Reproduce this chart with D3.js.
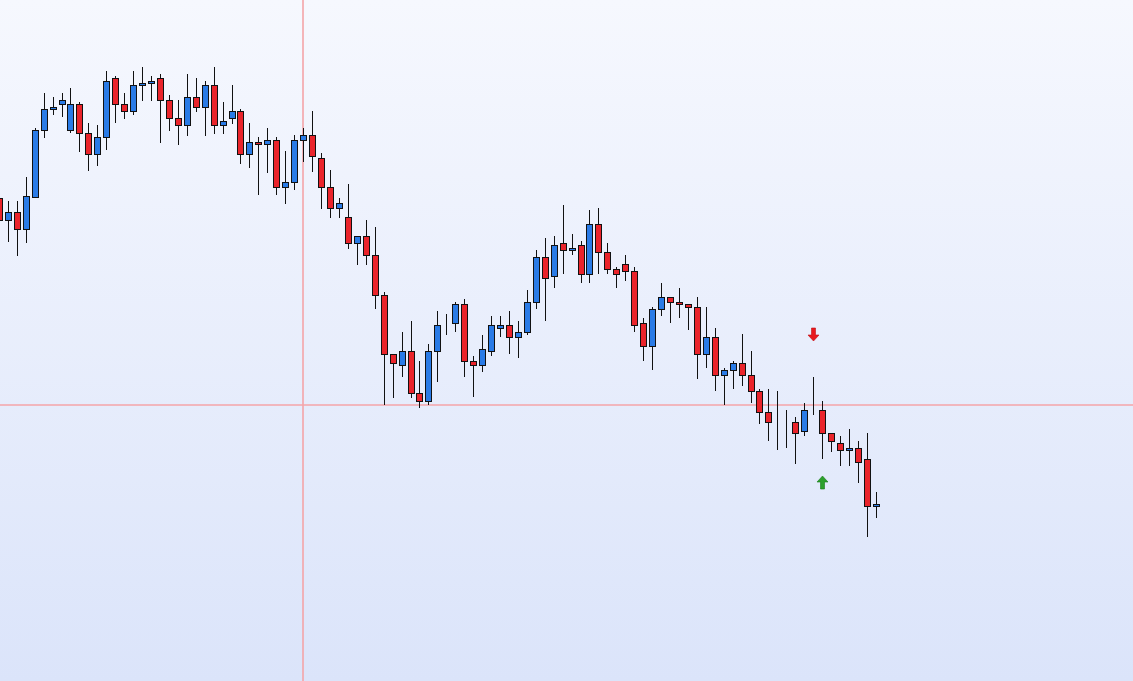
<!DOCTYPE html>
<html>
<head>
<meta charset="utf-8">
<script src="https://cdn.jsdelivr.net/npm/d3@7/dist/d3.min.js"></script>
<style>
html,body{margin:0;padding:0;overflow:hidden;background:#eef2fd;}
svg{display:block;}
</style>
</head>
<body>
<svg id="chart" width="1133" height="681"></svg>
<script>
// ---- data ----
const opens  = [118.02,117.80,117.88,117.71,118.03,118.70,118.91,118.96,118.70,118.96,
                118.67,118.46,118.63,119.22,118.96,118.89,119.15,119.17,119.22,119.00,
                118.82,118.75,119.03,118.93,119.15,118.75,118.82,118.89,118.46,118.58,
                118.56,118.60,118.13,118.18,118.60,118.65,118.42,118.13,117.92,117.83,
                117.57,117.64,117.45,117.05,116.46,116.35,116.49,116.07,115.99,116.49,
                116.77,116.77,116.96,116.39,116.35,116.49,116.72,116.75,116.63,116.68,
                116.98,117.43,117.24,117.57,117.50,117.55,117.26,117.76,117.48,117.31,
                117.36,117.29,116.77,116.54,116.91,117.03,116.98,116.96,116.93,116.46,
                116.63,116.25,116.30,116.37,116.25,116.09,115.88,115.78,115.78,115.78,
                115.69,115.90,115.90,115.67,115.57,115.50,115.52,115.41,114.94];
const highs  = [118.08,117.99,117.99,118.23,118.72,119.07,119.03,119.07,119.12,118.98,
                118.77,118.75,119.29,119.24,119.07,119.29,119.33,119.24,119.26,119.05,
                119.00,119.26,119.22,119.19,119.33,118.98,119.15,118.91,118.77,118.63,
                118.72,118.63,118.49,118.65,118.72,118.89,118.47,118.30,118.02,118.16,
                117.64,117.80,117.73,117.08,116.46,116.68,116.79,116.39,116.56,116.89,
                116.86,116.98,117.01,116.44,116.65,116.84,116.84,116.89,116.79,117.10,
                117.50,117.62,117.64,117.95,117.66,117.59,117.90,117.92,117.57,117.33,
                117.45,117.33,116.82,116.93,117.17,117.03,117.12,116.96,117.03,116.93,
                116.72,116.32,116.39,116.66,116.49,116.11,116.11,116.09,115.90,115.83,
                115.97,116.23,115.99,115.67,115.64,115.71,115.59,115.67,115.08];
const lows   = [117.72,117.58,117.44,117.57,118.02,118.62,118.85,118.83,118.67,118.48,
                118.29,118.34,118.50,118.77,118.81,118.85,118.99,118.99,118.57,118.69,
                118.55,118.64,118.88,118.64,118.66,118.66,118.76,118.36,118.32,118.05,
                118.27,118.05,117.96,118.10,118.38,118.28,117.91,117.82,117.82,117.51,
                117.35,117.35,116.91,115.95,116.02,116.23,116.02,115.92,115.95,116.18,
                116.65,116.68,116.23,116.03,116.28,116.44,116.63,116.46,116.42,116.65,
                116.91,116.79,117.12,117.26,117.45,117.17,117.17,117.26,117.26,117.12,
                117.19,116.68,116.39,116.30,116.84,116.77,116.82,116.70,116.21,116.32,
                116.09,115.95,116.11,116.14,115.97,115.76,115.59,115.50,115.52,115.36,
                115.64,115.85,115.41,115.48,115.34,115.34,115.17,114.63,114.82];
const closes = [117.80,117.88,117.71,118.04,118.70,118.91,118.93,119.00,118.96,118.67,
                118.46,118.63,119.19,118.96,118.89,119.15,119.17,119.19,119.00,118.82,
                118.75,119.03,118.93,119.15,118.75,118.79,118.89,118.46,118.58,118.56,
                118.60,118.13,118.18,118.60,118.65,118.44,118.13,117.92,117.97,117.57,
                117.64,117.45,117.05,116.46,116.37,116.49,116.07,115.99,116.49,116.75,
                116.77,116.96,116.39,116.35,116.51,116.75,116.75,116.63,116.68,116.98,
                117.43,117.22,117.55,117.50,117.52,117.26,117.76,117.48,117.31,117.26,
                117.29,116.75,116.54,116.91,117.03,116.98,116.96,116.93,116.46,116.63,
                116.25,116.30,116.37,116.25,116.09,115.88,115.78,115.78,115.78,115.67,
                115.90,115.90,115.67,115.59,115.50,115.52,115.38,114.94,114.96];
const sellSignalIndex = [91];
const sellSignalPrice = [116.72];
const buySignalIndex  = [92];
const buySignalPrice  = [115.11];
const crosshairIndex = 34;
const crosshairPrice = 115.95;

// ---- layout ----
const W = 1133, H = 681;
const svg = d3.select("#chart");

const defs = svg.append("defs");
const grad = defs.append("linearGradient").attr("id","bg").attr("x1",0).attr("y1",0).attr("x2",0).attr("y2",1);
grad.append("stop").attr("offset","0%").attr("stop-color","#f6f8fe");
grad.append("stop").attr("offset","100%").attr("stop-color","#dbe4fa");
svg.append("rect").attr("width",W).attr("height",H).attr("fill","url(#bg)");

const n = opens.length;
const x = d3.scaleLinear().domain([0, n - 1]).range([-1.1, 875.8]);
const y = d3.scaleLinear().domain([120 - H/100, 120]).range([H, 0]);

const data = d3.range(n).map(i => ({i, o:opens[i], h:highs[i], l:lows[i], c:closes[i]}));

// crosshair
const cx0 = Math.round(x(crosshairIndex));
const cy0 = Math.round(y(crosshairPrice));
svg.append("line").attr("x1",cx0).attr("x2",cx0).attr("y1",0).attr("y2",H)
   .attr("stroke","#f4a4a8").attr("stroke-width",1.6);
svg.append("line").attr("x1",0).attr("x2",W).attr("y1",cy0).attr("y2",cy0)
   .attr("stroke","#f4a4a8").attr("stroke-width",1.6);

const g = svg.append("g");
const candle = g.selectAll("g.c").data(data).join("g").attr("class","c");

candle.append("line")
  .attr("x1", d => Math.round(x(d.i)) + 0.5)
  .attr("x2", d => Math.round(x(d.i)) + 0.5)
  .attr("y1", d => Math.round(y(d.h)))
  .attr("y2", d => Math.round(y(d.l)))
  .attr("stroke","#111").attr("stroke-width",1);

candle.append("rect")
  .attr("x", d => Math.round(x(d.i)) - 3 + 0.5)
  .attr("width", 6)
  .attr("y", d => Math.round(y(Math.max(d.o,d.c))) + 0.5)
  .attr("height", d => Math.max(0, Math.round(y(Math.min(d.o,d.c))) - Math.round(y(Math.max(d.o,d.c)))))
  .attr("fill", d => d.c > d.o ? "#2a7be6" : (d.c < d.o ? "#ea242b" : "#111"))
  .attr("stroke","#111").attr("stroke-width",1);

// signal arrows
function arrowPath(cx, yTip, dir){ // dir = 1 pointing down, -1 pointing up
  const hw = 5.5, sw = 2, headH = 6, shaftH = 7;
  const ys = yTip - dir*headH, ye = yTip - dir*(headH+shaftH);
  return `M${cx},${yTip} L${cx-hw},${ys} L${cx-sw},${ys} L${cx-sw},${ye} L${cx+sw},${ye} L${cx+sw},${ys} L${cx+hw},${ys} Z`;
}
sellSignalIndex.forEach((idx,k) => {
  const cx = Math.round(x(idx)) + 0.5;
  const top = y(sellSignalPrice[k]);
  svg.append("path").attr("d", arrowPath(cx, top + 13, 1))
    .attr("fill","#e8191e").attr("stroke","#c01015").attr("stroke-width",0.6);
});
buySignalIndex.forEach((idx,k) => {
  const cx = Math.round(x(idx)) + 0.5;
  const bottom = y(buySignalPrice[k]);
  svg.append("path").attr("d", arrowPath(cx, bottom - 13, -1))
    .attr("fill","#2ca02c").attr("stroke","#1a7a1a").attr("stroke-width",0.6);
});
</script>
</body>
</html>
